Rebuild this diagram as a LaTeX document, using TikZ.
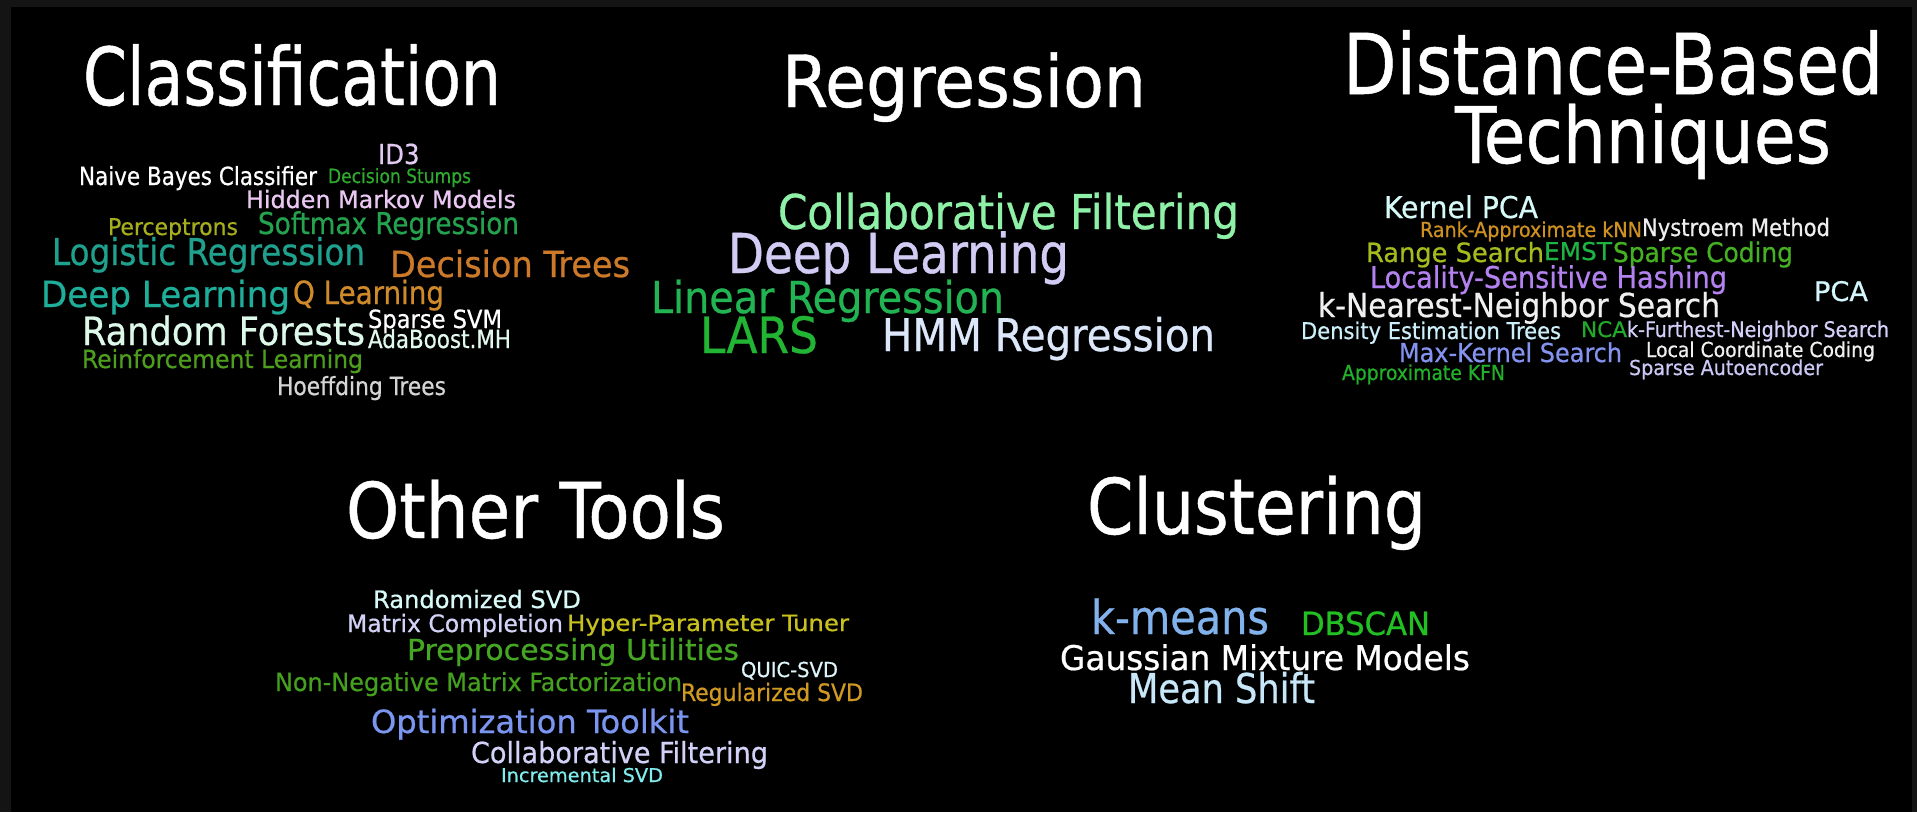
\documentclass[tikz,border=0pt]{standalone}
\usepackage{fontspec}
\usepackage{graphicx}
\setmainfont[FakeBold=0.6]{DejaVu Sans Condensed}
\definecolor{frame}{HTML}{141414}
\definecolor{cID}{HTML}{E2C9F2}
\definecolor{cStump}{HTML}{2EAA2E}
\definecolor{cHMM}{HTML}{EBC8F3}
\definecolor{cPerc}{HTML}{A6AE1E}
\definecolor{cSoft}{HTML}{24A24E}
\definecolor{cLog}{HTML}{1FA18E}
\definecolor{cDT}{HTML}{CC7A2A}
\definecolor{cDL}{HTML}{1FAE9A}
\definecolor{cQL}{HTML}{CF8A2A}
\definecolor{cRF}{HTML}{DDF9EA}
\definecolor{cAda}{HTML}{E2FAEE}
\definecolor{cRL}{HTML}{4E9E1E}
\definecolor{cHoef}{HTML}{D4D4D4}
\definecolor{rCF}{HTML}{8FF0A8}
\definecolor{rDL}{HTML}{D2CCF4}
\definecolor{rLin}{HTML}{22B452}
\definecolor{rLARS}{HTML}{22B534}
\definecolor{rHMM}{HTML}{DCE8FA}
\definecolor{dKPCA}{HTML}{D6FAF8}
\definecolor{dRank}{HTML}{CE9020}
\definecolor{dNys}{HTML}{EEEEEE}
\definecolor{dRange}{HTML}{A6BC1E}
\definecolor{dEMST}{HTML}{1EB444}
\definecolor{dSC}{HTML}{44B022}
\definecolor{dLSH}{HTML}{B482F0}
\definecolor{dPCA}{HTML}{D2F6FC}
\definecolor{dKNN}{HTML}{F0F0F0}
\definecolor{dDET}{HTML}{CDEFFA}
\definecolor{dNCA}{HTML}{22A82A}
\definecolor{dKFN}{HTML}{D4D0FA}
\definecolor{dMK}{HTML}{8492F0}
\definecolor{dLCC}{HTML}{F0F0F0}
\definecolor{dSA}{HTML}{CCC8F6}
\definecolor{dAKFN}{HTML}{22B02A}
\definecolor{oRSVD}{HTML}{D8FAF8}
\definecolor{oMC}{HTML}{D2D2F6}
\definecolor{oHPT}{HTML}{C8C01E}
\definecolor{oPre}{HTML}{44A622}
\definecolor{oQUIC}{HTML}{DCF4FA}
\definecolor{oNMF}{HTML}{44A01E}
\definecolor{oReg}{HTML}{D09A22}
\definecolor{oOpt}{HTML}{7A96F0}
\definecolor{oCF}{HTML}{D2D2F8}
\definecolor{oInc}{HTML}{80EEEE}
\definecolor{kKM}{HTML}{82B2EC}
\definecolor{kDB}{HTML}{22C022}
\definecolor{kMS}{HTML}{C8E8FA}
\newcommand\Wfit[3]{\resizebox{#1pt}{\height}{\fontsize{#2pt}{#2pt}\selectfont #3}}
\tikzset{wrd/.style={anchor=base west, inner sep=0pt, outer sep=0pt, text=white}}
\begin{document}
\begin{tikzpicture}[x=1pt,y=-1pt]
\fill[frame] (0,0) rectangle (1917,812);
\fill[black] (11,7) rectangle (1912,812);
% Classification
\node[wrd] (c0) at (83,105) {\Wfit{418}{80}{Classification}};
\node[wrd,text=cID] (c1) at (378,164) {\Wfit{41.5}{27.5}{ID3}};
\node[wrd] (c2) at (79,185) {\Wfit{238}{25}{Naive Bayes Classifier}};
\node[wrd,text=cStump] (c3) at (328,183) {\Wfit{143}{19.6}{Decision Stumps}};
\node[wrd,text=cHMM] (c4) at (246,208) {\Wfit{270}{24}{Hidden Markov Models}};
\node[wrd,text=cPerc] (c5) at (108,235) {\Wfit{130}{23}{Perceptrons}};
\node[wrd,text=cSoft] (c6) at (258,234) {\Wfit{261}{30}{Softmax Regression}};
\node[wrd,text=cLog] (c7) at (52,265) {\Wfit{313}{37}{Logistic Regression}};
\node[wrd,text=cDT] (c8) at (390,277) {\Wfit{240}{36}{Decision Trees}};
\node[wrd,text=cDL] (c9) at (41,307) {\Wfit{249}{36}{Deep Learning}};
\node[wrd,text=cQL] (c10) at (293,304) {\Wfit{151}{32}{Q Learning}};
\node[wrd] (c11) at (368,328) {\Wfit{134}{25}{Sparse SVM}};
\node[wrd,text=cRF] (c12) at (82,345) {\Wfit{283}{39}{Random Forests}};
\node[wrd,text=cAda] (c13) at (368,348) {\Wfit{143}{25}{AdaBoost.MH}};
\node[wrd,text=cRL] (c14) at (82,368) {\Wfit{281}{25}{Reinforcement Learning}};
\node[wrd,text=cHoef] (c15) at (277,395) {\Wfit{169}{25}{Hoeffding Trees}};
% Regression
\node[wrd] (r0) at (782,107) {\Wfit{364}{72}{Regression}};
\node[wrd,text=rCF] (r1) at (778,229) {\Wfit{461}{48}{Collaborative Filtering}};
\node[wrd,text=rDL] (r2) at (728,273) {\Wfit{341}{55}{Deep Learning}};
\node[wrd,text=rLin] (r3) at (651,313) {\Wfit{353}{44}{Linear Regression}};
\node[wrd,text=rLARS] (r4) at (700,353) {\Wfit{118}{50}{LARS}};
\node[wrd,text=rHMM] (r5) at (882,351) {\Wfit{333}{45}{HMM Regression}};
% Distance-Based Techniques
\node[wrd] (d0) at (1343,94) {\Wfit{540}{84}{Distance-Based}};
\node[wrd] (d1) at (1455,163) {\Wfit{376}{78}{Techniques}};
\node[wrd,text=dKPCA] (d2) at (1384,218) {\Wfit{154}{30}{Kernel PCA}};
\node[wrd,text=dRank] (d3) at (1420,237) {\Wfit{222}{20.6}{Rank-Approximate kNN}};
\node[wrd,text=dNys] (d4) at (1642,236) {\Wfit{188}{24}{Nystroem Method}};
\node[wrd,text=dRange] (d5) at (1366,262) {\Wfit{178}{26.5}{Range Search}};
\node[wrd,text=dEMST] (d6) at (1544,260) {\Wfit{68}{24.5}{EMST}};
\node[wrd,text=dSC] (d7) at (1613,262) {\Wfit{180}{27}{Sparse Coding}};
\node[wrd,text=dLSH] (d8) at (1370,288) {\Wfit{357}{30}{Locality-Sensitive Hashing}};
\node[wrd,text=dPCA] (d9) at (1814,301) {\Wfit{54}{27}{PCA}};
\node[wrd,text=dKNN] (d10) at (1318,317) {\Wfit{402}{33}{k-Nearest-Neighbor Search}};
\node[wrd,text=dDET] (d11) at (1301,339) {\Wfit{260}{23}{Density Estimation Trees}};
\node[wrd,text=dNCA] (d12) at (1581,337) {\Wfit{46}{21.5}{NCA}};
\node[wrd,text=dKFN] (d13) at (1627,337) {\Wfit{262}{21.5}{k-Furthest-Neighbor Search}};
\node[wrd,text=dMK] (d14) at (1399,362) {\Wfit{223}{26}{Max-Kernel Search}};
\node[wrd,text=dLCC] (d15) at (1646,357) {\Wfit{229}{20.6}{Local Coordinate Coding}};
\node[wrd,text=dSA] (d16) at (1629,375) {\Wfit{194}{20.6}{Sparse Autoencoder}};
\node[wrd,text=dAKFN] (d17) at (1342,380) {\Wfit{163}{20.6}{Approximate KFN}};
% Other Tools
\node[wrd] (o0) at (346,538) {\Wfit{379}{77}{Other Tools}};
\node[wrd,text=oRSVD] (o1) at (373,608) {\Wfit{208}{24}{Randomized SVD}};
\node[wrd,text=oMC] (o2) at (347,632) {\Wfit{216}{24}{Matrix Completion}};
\node[wrd,text=oHPT] (o3) at (567,631) {\Wfit{282}{22.5}{Hyper-Parameter Tuner}};
\node[wrd,text=oPre] (o4) at (407,660) {\Wfit{332}{29}{Preprocessing Utilities}};
\node[wrd,text=oQUIC] (o5) at (741,677) {\Wfit{97}{20.6}{QUIC-SVD}};
\node[wrd,text=oNMF] (o6) at (275,691) {\Wfit{407}{25}{Non-Negative Matrix Factorization}};
\node[wrd,text=oReg] (o7) at (681,701) {\Wfit{182}{24}{Regularized SVD}};
\node[wrd,text=oOpt] (o8) at (371,733) {\Wfit{318}{32}{Optimization Toolkit}};
\node[wrd,text=oCF] (o9) at (471,763) {\Wfit{297}{29}{Collaborative Filtering}};
\node[wrd,text=oInc] (o10) at (501,782) {\Wfit{162}{19}{Incremental SVD}};
% Clustering
\node[wrd] (k0) at (1087,534) {\Wfit{339}{77}{Clustering}};
\node[wrd,text=kKM] (k1) at (1091,634) {\Wfit{178}{47}{k-means}};
\node[wrd,text=kDB] (k2) at (1301,635) {\Wfit{129}{32}{DBSCAN}};
\node[wrd] (k3) at (1060,670) {\Wfit{410}{34}{Gaussian Mixture Models}};
\node[wrd,text=kMS] (k4) at (1128,703) {\Wfit{187}{41}{Mean Shift}};
\end{tikzpicture}
\end{document}
